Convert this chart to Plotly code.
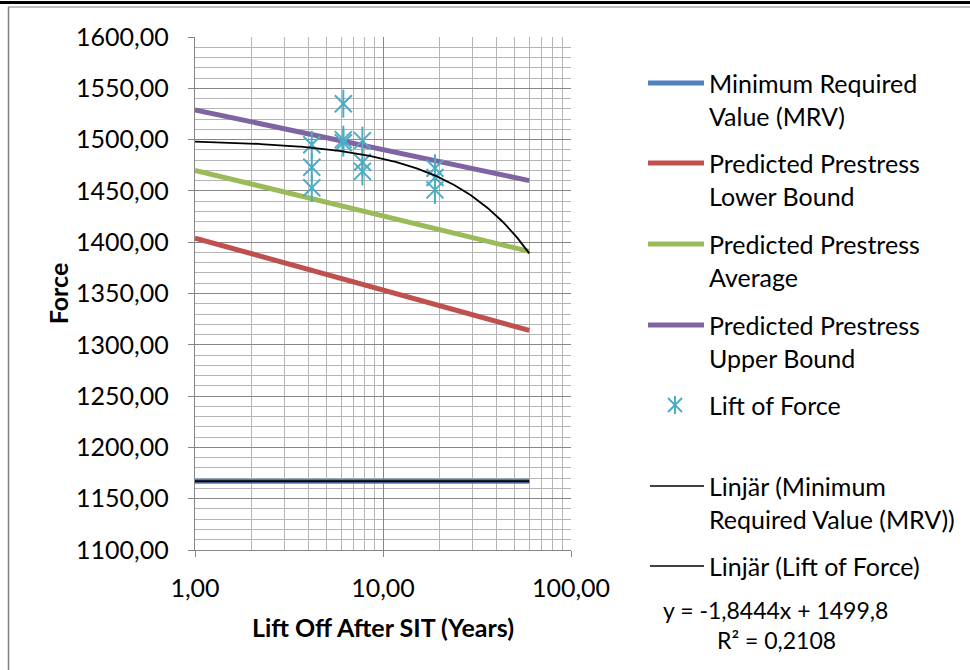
import numpy as np
import plotly.graph_objects as go

# ---------------- data ----------------
years_lines = [1, 10, 60]
mrv = [1167, 1167, 1167]
lower_bound = [1404, 1354, 1314]
average = [1470, 1426, 1391]
upper_bound = [1529, 1490, 1460]

lift_years = [4.18, 4.18, 4.18, 6.15, 6.15, 6.15, 7.77, 7.77, 7.77, 18.9, 18.9, 18.9]
lift_force = [1495, 1473, 1453, 1535, 1500, 1497, 1499, 1478, 1469, 1472, 1463, 1451]

trend_slope = -1.8444
trend_intercept = 1499.8
trend_range = [1, 60]
r_squared = "0,2108"

x_ticks = [1, 10, 100]
y_range = [1100, 1600]

legend_labels = [
    "Minimum Required<br>Value (MRV)",
    "Predicted Prestress<br>Lower Bound",
    "Predicted Prestress<br>Average",
    "Predicted Prestress<br>Upper Bound",
    "Lift of Force",
    "Linjär (Minimum<br>Required Value (MRV))",
    "Linjär (Lift of Force)",
]

# ---------------- styles ----------------
BLUE = "#4F81BD"
RED = "#C0504D"
GREEN = "#9BBB59"
PURPLE = "#8064A2"
AQUA = "#4BACC6"
FONT = "Lato"
FS = 25
MAJOR = "#868686"
MINOR = "#B4B4B4"

W, H = 970, 670
L, R, T, B = 195, 399, 37, 120
PW, PH = W - L - R, H - T - B


def px(xp):
    return (xp - L) / PW


def py(yp):
    return (H - B - yp) / PH


fig = go.Figure()
for vals, col in [(mrv, BLUE), (lower_bound, RED), (average, GREEN), (upper_bound, PURPLE)]:
    fig.add_trace(go.Scatter(x=years_lines, y=vals, mode="lines",
                             line=dict(color=col, width=5), showlegend=False, hoverinfo="skip"))

# star markers (X + vertical bar)
fig.add_trace(go.Scatter(x=lift_years, y=lift_force, mode="markers",
                         marker=dict(symbol="x-thin-open", size=17, color=AQUA,
                                     line=dict(color=AQUA, width=2)), showlegend=False))
fig.add_trace(go.Scatter(x=lift_years, y=lift_force, mode="markers",
                         marker=dict(symbol="line-ns-open", size=20, color=AQUA,
                                     line=dict(color=AQUA, width=2)), showlegend=False))

# trendlines
fig.add_trace(go.Scatter(x=[years_lines[0], years_lines[-1]], y=[mrv[0], mrv[-1]], mode="lines",
                         line=dict(color="black", width=1.8), showlegend=False))
tx = np.geomspace(trend_range[0], trend_range[1], 200)
fig.add_trace(go.Scatter(x=tx, y=trend_slope * tx + trend_intercept, mode="lines",
                         line=dict(color="black", width=1.8), showlegend=False))

shapes = []
annotations = []

# manual legend
leg_y = [83, 163, 244, 325, 405, 486, 566]
leg_style = [(BLUE, 5), (RED, 5), (GREEN, 5), (PURPLE, 5), (None, 0), ("black", 1.5), ("black", 1.5)]
for yy, lab, (col, wdt) in zip(leg_y, legend_labels, leg_style):
    if col is not None:
        x0 = 648 if wdt > 2 else 650
        shapes.append(dict(type="line", xref="paper", yref="paper",
                           x0=px(x0), x1=px(704), y0=py(yy), y1=py(yy),
                           line=dict(color=col, width=wdt)))
    annotations.append(dict(xref="paper", yref="paper", x=px(707), y=py(yy - 17),
                            xanchor="left", yanchor="top", align="left", showarrow=False,
                            text=lab, font=dict(family=FONT, size=FS, color="black")))
# legend star symbol
shapes.append(dict(type="line", xref="paper", yref="paper", x0=px(668), x1=px(682),
                   y0=py(398), y1=py(412), line=dict(color=AQUA, width=2)))
shapes.append(dict(type="line", xref="paper", yref="paper", x0=px(668), x1=px(682),
                   y0=py(412), y1=py(398), line=dict(color=AQUA, width=2)))
shapes.append(dict(type="line", xref="paper", yref="paper", x0=px(675), x1=px(675),
                   y0=py(396), y1=py(414), line=dict(color=AQUA, width=2)))

# equation
annotations.append(dict(xref="paper", yref="paper", x=px(775), y=py(610),
                        xanchor="center", yanchor="middle", showarrow=False,
                        text=f"y = {trend_slope:.4f}x + {trend_intercept:.1f}".replace(".", ","),
                        font=dict(family=FONT, size=23, color="black")))
annotations.append(dict(xref="paper", yref="paper", x=px(776), y=py(640),
                        xanchor="center", yanchor="middle", showarrow=False,
                        text=f"R² = {r_squared}",
                        font=dict(family=FONT, size=23, color="black")))

# outer frame
shapes.append(dict(type="line", xref="paper", yref="paper", x0=px(0), x1=px(970),
                   y0=py(2.5), y1=py(2.5), line=dict(color="black", width=3)))
shapes.append(dict(type="line", xref="paper", yref="paper", x0=px(8), x1=px(970),
                   y0=py(7), y1=py(7), line=dict(color="#7F7F7F", width=1)))
shapes.append(dict(type="line", xref="paper", yref="paper", x0=px(8.5), x1=px(8.5),
                   y0=py(7), y1=py(670), line=dict(color="#7F7F7F", width=1.5)))

fig.update_layout(
    width=W, height=H,
    margin=dict(l=L, r=R, t=T, b=B, pad=0),
    paper_bgcolor="white", plot_bgcolor="white",
    separators=", ",
    showlegend=False,
    font=dict(family=FONT, size=FS, color="black"),
    shapes=shapes, annotations=annotations,
    xaxis=dict(type="log", range=[np.log10(x_ticks[0]), np.log10(x_ticks[-1])],
               tickvals=x_ticks, tickformat=".2f",
               showgrid=True, gridcolor=MAJOR, gridwidth=1.4,
               minor=dict(dtick="D1", showgrid=True, gridcolor=MINOR, gridwidth=1.4, ticks=""),
               showline=True, linecolor=MAJOR, linewidth=1.4,
               ticks="outside", ticklen=6, tickcolor=MAJOR,
               ticklabelstandoff=10,
               tickfont=dict(family=FONT, size=FS),
               title=dict(text="<b>Lift Off After SIT (Years)</b>", standoff=18,
                          font=dict(family=FONT, size=FS)),
               zeroline=False),
    yaxis=dict(range=y_range, dtick=50, tickformat=".2f",
               showgrid=True, gridcolor=MAJOR, gridwidth=1.4,
               minor=dict(dtick=10, showgrid=True, gridcolor=MINOR, gridwidth=1.4, ticks=""),
               showline=True, linecolor=MAJOR, linewidth=1.4,
               ticks="outside", ticklen=6, tickcolor=MAJOR,
               ticklabelstandoff=14,
               tickfont=dict(family=FONT, size=FS),
               title=dict(text="<b>Force</b>", standoff=0, font=dict(family=FONT, size=FS)),
               zeroline=False),
)

fig.write_html("out.html", config={"displayModeBar": False},
               post_script="document.body.style.margin='0px';document.body.style.overflow='hidden';")
